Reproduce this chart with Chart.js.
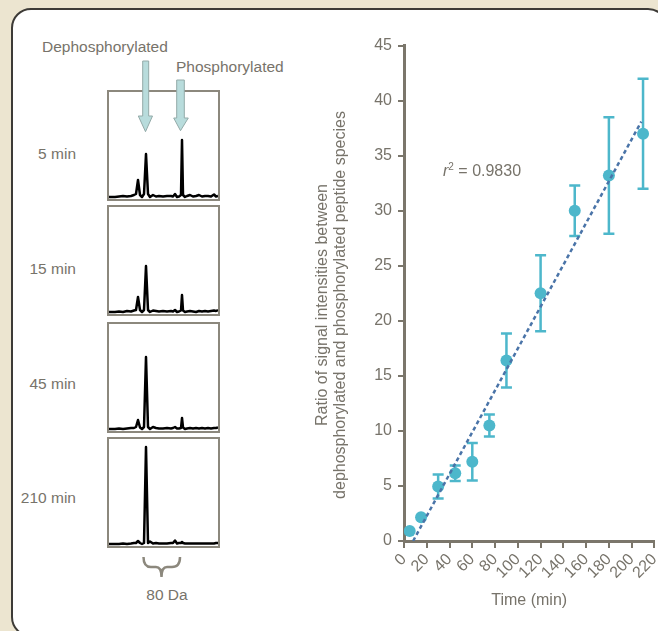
<!DOCTYPE html>
<html>
<head>
<meta charset="utf-8">
<script src="https://cdn.jsdelivr.net/npm/chart.js@4.4.0/dist/chart.umd.min.js"></script>
<style>
  html, body { margin: 0; padding: 0; overflow: hidden; }
  body {
    width: 658px; height: 631px; position: relative;
    background: #ece5d0;
    font-family: "Liberation Sans", Arial, sans-serif;
    color: #77736a;
  }
  .panel {
    position: absolute; left: 11px; top: 8px; width: 657px; height: 629px;
    box-sizing: border-box; border: 2px solid #3d3b37; border-radius: 20px;
    background: #fff;
  }
  .txt { position: absolute; font-size: 15.5px; line-height: 16px; white-space: nowrap; }
  .box {
    position: absolute; left: 107px; width: 113px; height: 111px;
    box-sizing: border-box; border: 2px solid #8c887d; background: #fff;
  }
  .box canvas { display: block; }
  #ratioWrap { position: absolute; left: 300px; top: 30px; width: 370px; height: 601px; }
  .ytitle {
    position: absolute; left: 131px; top: 287px; width: 400px; height: 36px;
    font-size: 16px; line-height: 18px; text-align: center;
    transform-origin: 200px 18px; transform: rotate(-90deg);
    white-space: nowrap;
  }
  svg.ann { position: absolute; left: 0; top: 0; }
</style>
</head>
<body>
<div class="panel"></div>

<div class="txt" style="left:42px; top:39px;">Dephosphorylated</div>
<div class="txt" style="left:176px; top:59px;">Phosphorylated</div>
<div class="txt" style="left:143px; top:587px; width:48px; text-align:center;">80 Da</div>

<div id="spectra"></div>

<svg class="ann" width="658" height="631">
  <polygon points="142.7,61 148.7,61 148.7,116 152.5,116 145.5,131.7 138.3,116 142.7,116"
           fill="#b8dcdc" stroke="#93aaa8" stroke-width="1"/>
  <polygon points="176.7,80 184.3,80 184.3,118 188.3,118 180.5,130.7 173.7,118 176.7,118"
           fill="#b8dcdc" stroke="#93aaa8" stroke-width="1"/>
  <path d="M143.5,557 Q143.5,567 151,567 L156,567 Q161.5,567 161.5,577 Q161.5,567 167,567 L172,567 Q180,567 180,557"
        fill="none" stroke="#8c887d" stroke-width="2.5"/>
</svg>

<div id="ratioWrap"><canvas id="ratioChart"></canvas></div>
<div class="ytitle">Ratio of signal intensities between<br>dephosphorylated and phosphorylated peptide species</div>
<div class="txt" style="left:443px; top:159px; font-size:16px;"><i>r</i><sup style="font-size:10px; vertical-align:6px;">2</sup> = 0.9830</div>

<script>
// ratio of dephospho / phospho signal vs time
const times  = [5, 15, 30, 45, 60, 75, 90, 120, 150, 180, 210];
const ratios = [0.9, 2.15, 4.95, 6.15, 7.2, 10.5, 16.4, 22.5, 30.0, 33.2, 37.0];
const errors = [0, 0, 1.1, 0.7, 1.7, 1.0, 2.45, 3.45, 2.3, 5.3, 5.0];

// linear fit drawn as dashed line
const fitX = [8, 208.5];
const fitY = [0, 38.1];

const timeTicks  = [0, 20, 40, 60, 80, 100, 120, 140, 160, 180, 200, 220];
const ratioTicks = [0, 5, 10, 15, 20, 25, 30, 35, 40, 45];

// mass spectra (relative m/z offset, intensity)
const spectrumLabels = ['5 min', '15 min', '45 min', '210 min'];
const massOffset = [0, 6, 10, 14, 18, 22, 25, 27, 29, 31, 33, 35, 37, 39, 41, 44, 47, 50, 54, 58,
                    62, 64, 66, 68, 70, 72, 73, 74, 76, 78, 81, 84, 87, 90, 93, 96, 99, 102, 105, 107, 109];
const spec5   = [2, 2, 2.5, 3, 2.5, 3, 4, 5, 19, 4, 2, 5, 45, 5, 2, 4, 2.5, 3, 2.5, 3,
                 3, 2.5, 5, 2, 2.5, 4, 59, 4, 2, 3, 4, 2.5, 3, 4, 2.5, 3, 3, 2.5, 4.5, 2.5, 3];
const spec15  = [2, 2, 2.5, 2, 3, 2.5, 3.5, 4, 17, 4, 2, 4, 48, 4, 2, 3.5, 3, 2.5, 3, 2.5,
                 3, 2.5, 4, 2, 2.5, 3.5, 19, 3.5, 2, 2.5, 3, 2.5, 2, 3, 2.5, 3, 2.5, 3, 3.5, 3, 4];
const spec45  = [2, 2, 2.5, 2, 2.5, 3, 3, 4, 11, 3.5, 2, 4, 74, 4, 2, 4, 3, 2.5, 2.5, 3,
                 2.5, 3, 4, 2.5, 2.5, 3, 13, 3.5, 2, 2.5, 3, 2.5, 3, 2.5, 3, 2.5, 3, 2.5, 3, 3, 3.5];
const spec210 = [2, 2, 2, 2.5, 2, 2.5, 3, 3, 5, 3, 2, 3, 99, 3, 4.5, 2.5, 3, 2.5, 2.5, 2.5,
                 3, 3, 5.5, 2.5, 3, 3, 4, 3, 2.5, 2.5, 2.5, 2.5, 2.5, 2.5, 2.5, 2.5, 2.5, 2.5, 2.5, 3, 3];

const AXIS = '#7b766b';
const TEXT = '#77736a';
const TEAL = '#4db7cb';
const FIT  = '#4a74a8';

Chart.defaults.font.family = '"Liberation Sans", Arial, sans-serif';
Chart.defaults.animation = false;

// ── spectra panels ──
const boxTops = [90, 205, 322, 437];
const labelY  = [154, 269, 384, 498];
const spectra = [spec5, spec15, spec45, spec210];
const holder  = document.getElementById('spectra');

spectra.forEach((spec, i) => {
  const lab = document.createElement('div');
  lab.className = 'txt';
  lab.style.cssText = `right:${658 - 76}px; top:${labelY[i] - 8}px; text-align:right;`;
  lab.textContent = spectrumLabels[i];
  holder.appendChild(lab);

  const box = document.createElement('div');
  box.className = 'box';
  box.style.top = boxTops[i] + 'px';
  const cv = document.createElement('canvas');
  cv.width = 109; cv.height = 107;
  box.appendChild(cv);
  holder.appendChild(box);

  new Chart(cv, {
    type: 'line',
    data: {
      datasets: [{
        data: massOffset.map((m, k) => ({ x: m, y: spec[k] })),
        borderColor: '#000',
        borderWidth: 2.5,
        borderJoinStyle: 'round',
        pointRadius: 0,
        tension: 0,
        clip: false,
      }]
    },
    options: {
      responsive: false,
      layout: { padding: 0 },
      plugins: { legend: { display: false }, tooltip: { enabled: false } },
      scales: {
        x: { type: 'linear', min: 0, max: 109, display: false },
        y: { min: 0, max: 107, display: false },
      }
    }
  });
});

// ── error bars through the chart scales ──
const errorBars = {
  id: 'errorBars',
  beforeDatasetsDraw(chart) {
    const { ctx, scales: { x, y } } = chart;
    ctx.save();
    ctx.strokeStyle = TEAL;
    ctx.lineWidth = 2.5;
    times.forEach((t, i) => {
      if (!errors[i]) return;
      const px  = x.getPixelForValue(t);
      const top = y.getPixelForValue(ratios[i] + errors[i]);
      const bot = y.getPixelForValue(ratios[i] - errors[i]);
      ctx.beginPath();
      ctx.moveTo(px, top); ctx.lineTo(px, bot);
      ctx.moveTo(px - 5.5, top); ctx.lineTo(px + 5.5, top);
      ctx.moveTo(px - 5.5, bot); ctx.lineTo(px + 5.5, bot);
      ctx.stroke();
    });
    ctx.restore();
  }
};

new Chart(document.getElementById('ratioChart'), {
  type: 'scatter',
  data: {
    datasets: [
      {
        label: 'fit',
        data: fitX.map((v, i) => ({ x: v, y: fitY[i] })),
        showLine: true,
        borderColor: FIT,
        borderWidth: 2.5,
        borderDash: [4, 3],
        pointRadius: 0,
        order: 0,
      },
      {
        label: 'ratio',
        data: times.map((t, i) => ({ x: t, y: ratios[i] })),
        backgroundColor: TEAL,
        borderWidth: 0,
        pointRadius: 6,
        order: 1,
      }
    ]
  },
  options: {
    responsive: true,
    maintainAspectRatio: false,
    layout: { padding: { top: 13, right: 6, left: 0, bottom: 0 } },
    plugins: { legend: { display: false }, tooltip: { enabled: false } },
    scales: {
      x: {
        type: 'linear', min: 0, max: 220,
        afterBuildTicks: s => { s.ticks = timeTicks.map(v => ({ value: v })); },
        afterFit: s => { s.height = 90; },
        ticks: { color: TEXT, font: { size: 16 }, minRotation: 45, maxRotation: 45, padding: 2, autoSkip: false },
        grid: { drawOnChartArea: false, color: AXIS, lineWidth: 2, tickLength: 7 },
        border: { color: AXIS, width: 3 },
        title: { display: true, text: 'Time (min)', color: TEXT, font: { size: 16, lineHeight: 1.2 }, padding: { top: 0, bottom: 21 } },
      },
      y: {
        min: 0, max: 45,
        afterBuildTicks: s => { s.ticks = ratioTicks.map(v => ({ value: v })); },
        afterFit: s => { s.width = 104; },
        ticks: { color: TEXT, font: { size: 16 }, padding: 6 },
        grid: { drawOnChartArea: false, color: AXIS, lineWidth: 2, tickLength: 6 },
        border: { color: AXIS, width: 3 },
      }
    }
  },
  plugins: [errorBars]
});
</script>
</body>
</html>
